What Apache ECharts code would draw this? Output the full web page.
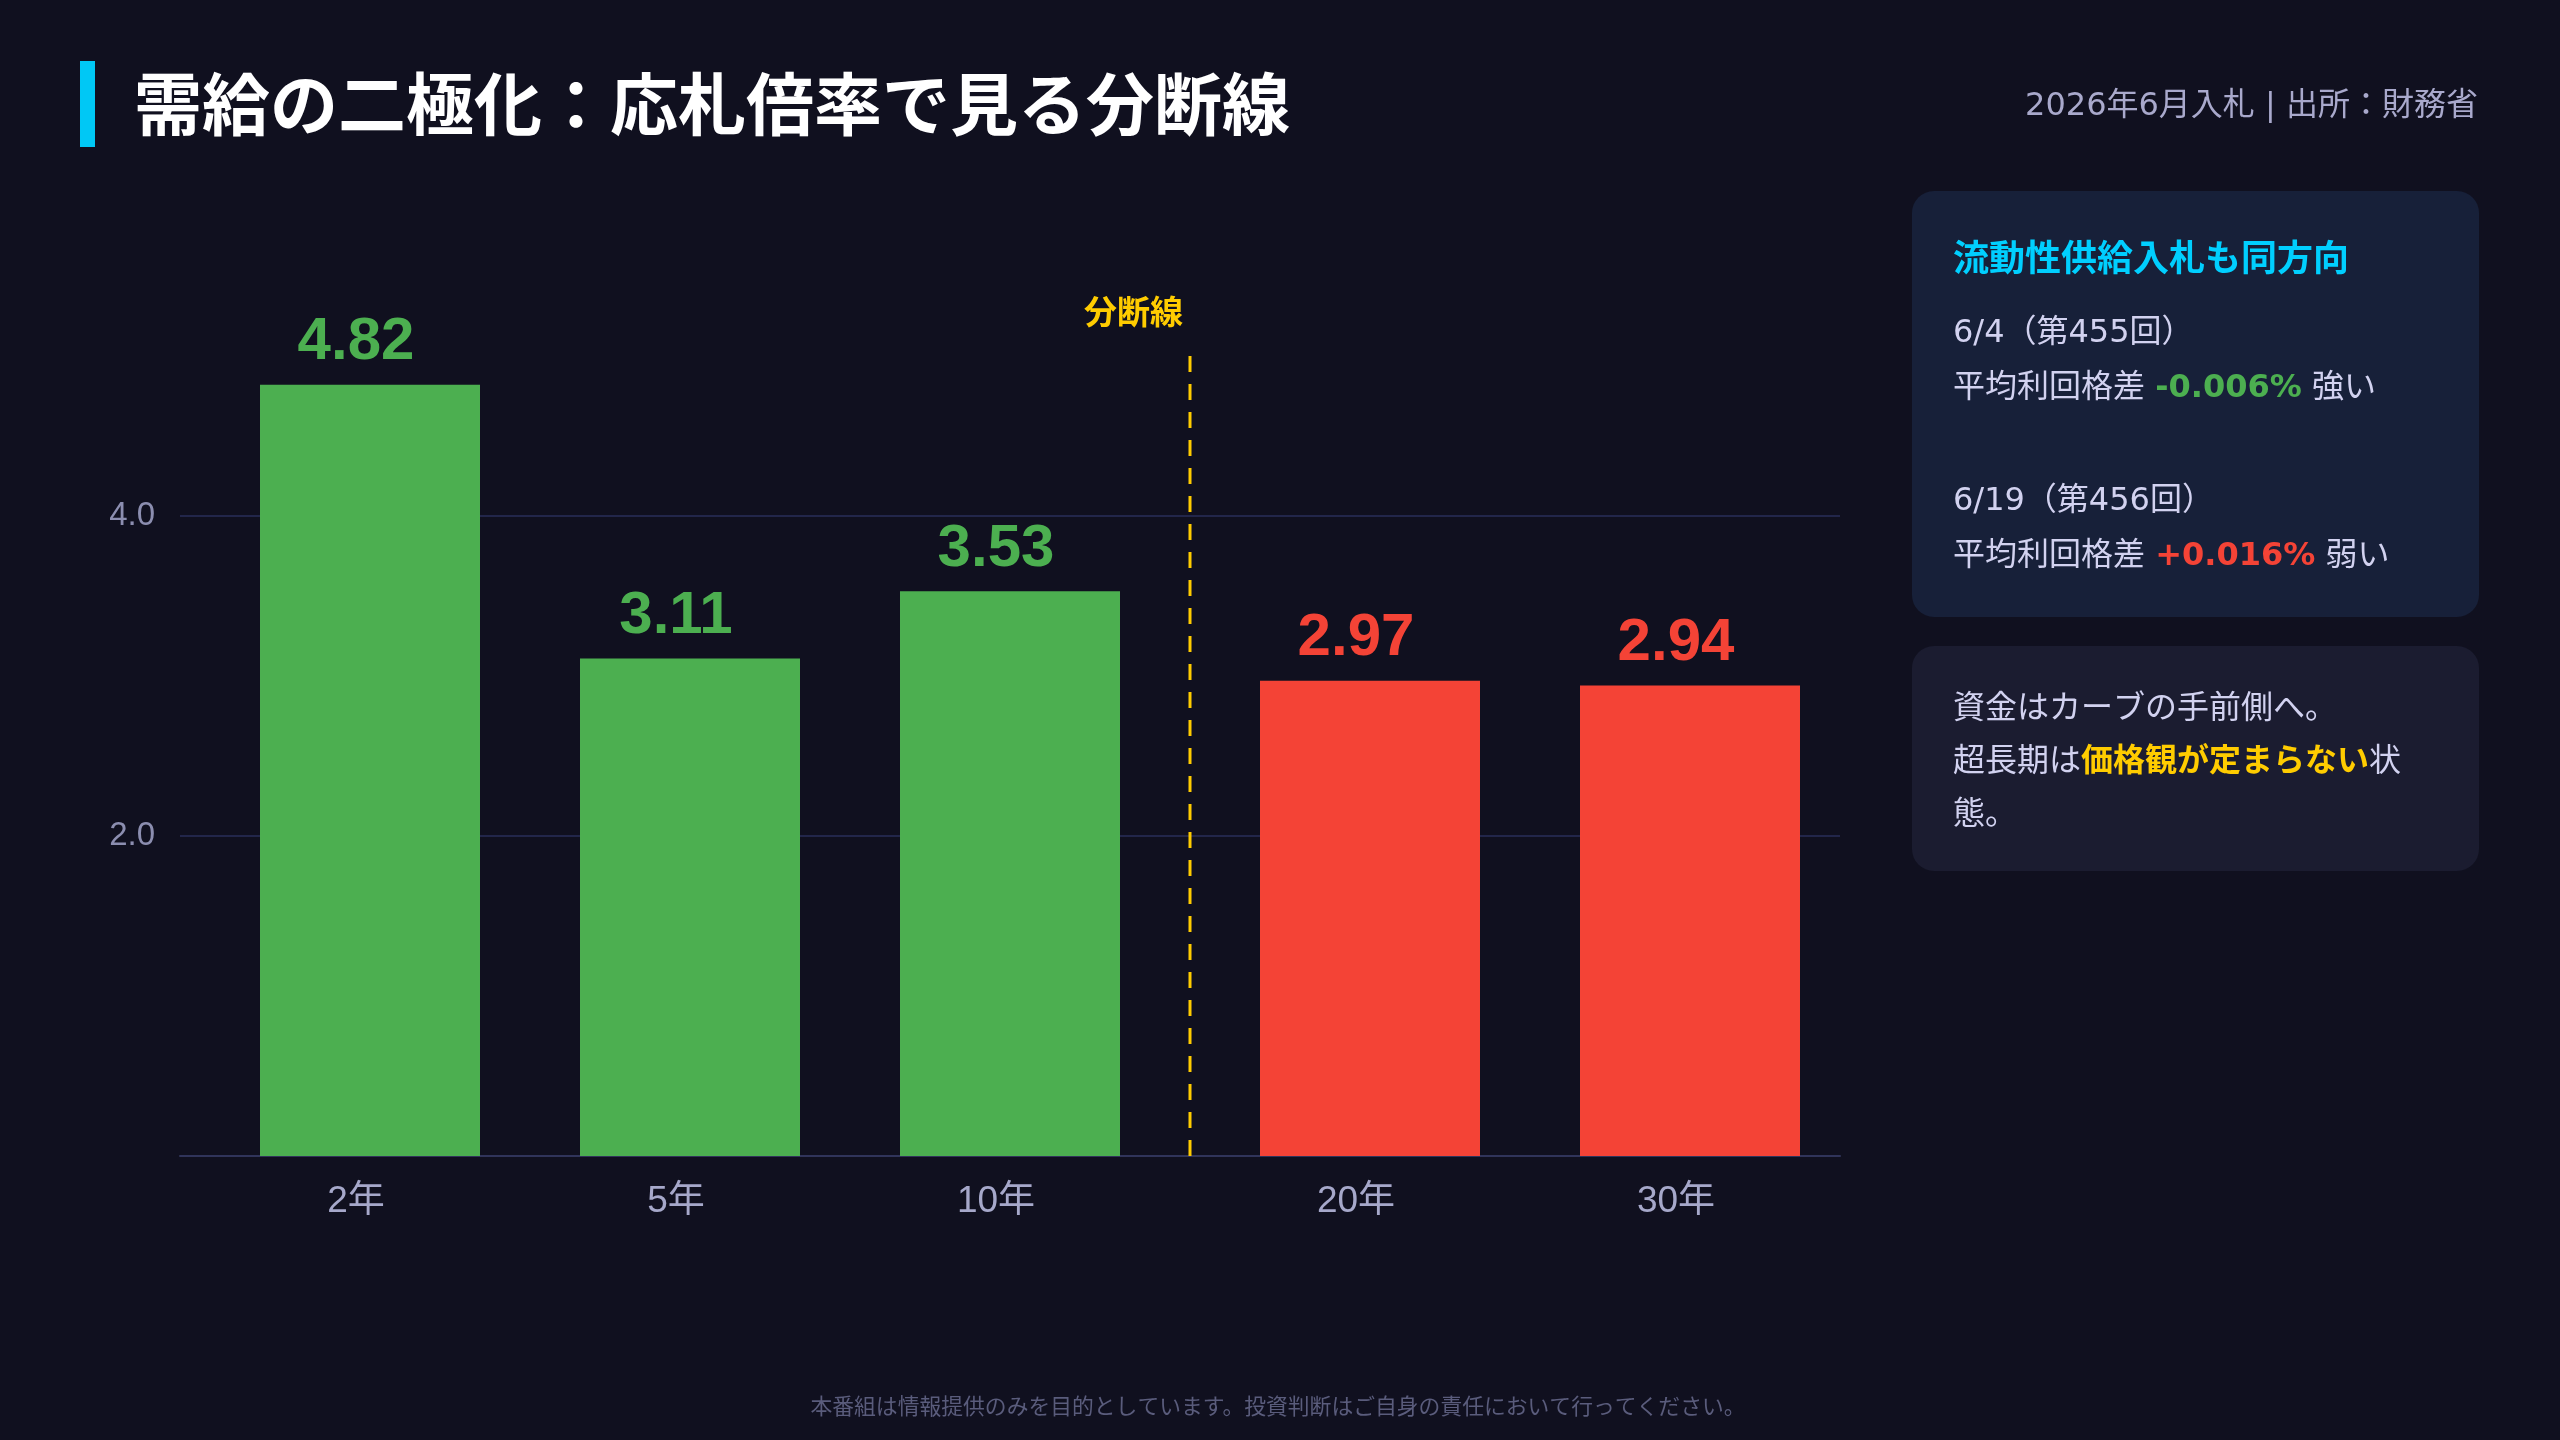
<!DOCTYPE html>
<html>
<head>
<meta charset="utf-8">
<script src="https://cdn.jsdelivr.net/npm/echarts@6/dist/echarts.min.js"></script>
<style>
html,body{margin:0;padding:0;background:#10101F;}
#c{width:2560px;height:1440px;}
</style>
</head>
<body>
<div id="c"></div>
<script>
// ---- data ----
const categories = ['2年', '5年', '10年', '20年', '30年'];
const bidToCover = [4.82, 3.11, 3.53, 2.97, 2.94];
const dividerAfter = '10年';
const yAxisMin = 0;
const yAxisMax = 5;
const yAxisStep = 2;

const titleText = '需給の二極化：応札倍率で見る分断線';
const subtitleText = '2026年6月入札 | 出所：財務省';
const dividerLabel = '分断線';
const panel1Heading = '流動性供給入札も同方向';
const auction1Date = '6/4（第455回）';
const auction1Spread = '-0.006%';
const auction1Verdict = '強い';
const auction2Date = '6/19（第456回）';
const auction2Spread = '+0.016%';
const auction2Verdict = '弱い';
const spreadLabel = '平均利回格差';
const noteLines = ['資金はカーブの手前側へ。', '超長期は', '価格観が定まらない', '状', '態。'];
const footerText = '本番組は情報提供のみを目的としています。投資判断はご自身の責任において行ってください。';

// ---- style ----
const GREEN = '#4CAF50', RED = '#F44336', YELLOW = '#FFCC00', CYAN = '#00CFFF';
const F = "'Liberation Sans', Arial, 'Noto Sans CJK JP', sans-serif";
const FW = "'DejaVu Sans', 'Noto Sans CJK JP', sans-serif";
const FJ = "'Noto Sans CJK JP', sans-serif";

const splitIdx = categories.indexOf(dividerAfter) + 1;
const leftCats = categories.slice(0, splitIdx);
const rightCats = categories.slice(splitIdx);
const leftVals = bidToCover.slice(0, splitIdx);
const rightVals = bidToCover.slice(splitIdx);

const chart = echarts.init(document.getElementById('c'), null, {renderer: 'canvas'});

const gridTop = 356, gridBottom = 284;
const barLabel = (color) => ({
  show: true, position: 'top', distance: 12, offset: [-14, 0],
  color: color, fontFamily: F, fontWeight: 'bold', fontSize: 60,
  formatter: p => p.value.toFixed(2)
});
const hiddenY = (i) => ({
  type: 'value', gridIndex: i, min: yAxisMin, max: yAxisMax, interval: yAxisStep, show: false
});
const catAxis = (i, data) => ({
  type: 'category', gridIndex: i, data: data,
  axisLine: {show: false}, axisTick: {show: false},
  axisLabel: {color: '#A6A8CA', fontFamily: F, fontSize: 37, margin: 27, padding: [0, 28, 0, 0]}
});

const option = {
  backgroundColor: '#10101F',
  animation: false,
  grid: [
    {left: 180, right: 720, top: gridTop, bottom: gridBottom, outerBoundsMode: 'none', containLabel: false},
    {left: 210, width: 960, top: gridTop, bottom: gridBottom, outerBoundsMode: 'none', containLabel: false},
    {left: 1210, width: 640, top: gridTop, bottom: gridBottom, outerBoundsMode: 'none', containLabel: false}
  ],
  xAxis: [
    {type: 'category', gridIndex: 0, data: categories,
     axisLine: {show: true, lineStyle: {color: '#30345A', width: 2}},
     axisTick: {show: false}, axisLabel: {show: false}},
    catAxis(1, leftCats),
    catAxis(2, rightCats)
  ],
  yAxis: [
    {type: 'value', gridIndex: 0, min: yAxisMin, max: yAxisMax, interval: yAxisStep,
     axisLine: {show: false}, axisTick: {show: false},
     axisLabel: {color: '#8C8EB0', fontFamily: F, fontSize: 33, margin: 25,
       showMinLabel: false, showMaxLabel: false,
       formatter: v => (v === yAxisMax ? '' : v.toFixed(1))},
     splitLine: {show: true, showMinLine: false, showMaxLine: false,
       lineStyle: {color: '#22264A', width: 2}}},
    hiddenY(1),
    hiddenY(2)
  ],
  series: [
    {type: 'bar', xAxisIndex: 1, yAxisIndex: 1, data: leftVals, barWidth: 220,
     itemStyle: {color: GREEN}, label: barLabel(GREEN)},
    {type: 'bar', xAxisIndex: 2, yAxisIndex: 2, data: rightVals, barWidth: 220,
     itemStyle: {color: RED}, label: barLabel(RED)}
  ]
};
chart.setOption(option);

// divider position from the library's scales
const xLeft = chart.convertToPixel({xAxisIndex: 1}, leftCats[leftCats.length - 1]);
const xRight = chart.convertToPixel({xAxisIndex: 2}, rightCats[0]);
const xDiv = Math.round((xLeft + xRight) / 2);
const yTop = chart.convertToPixel({yAxisIndex: 0}, yAxisMax);
const yBot = chart.convertToPixel({yAxisIndex: 0}, yAxisMin);

const graphics = [
  {type: 'rect', id: 'accent', shape: {x: 80, y: 61, width: 15, height: 86}, style: {fill: '#00C8F5'}},
  {type: 'text', id: 'title', x: 134, y: 104,
   style: {text: titleText, font: "bold 68px " + FJ, fill: '#FFFFFF', align: 'left', verticalAlign: 'middle'}},
  {type: 'text', id: 'subtitle', x: 2478, y: 107,
   style: {text: subtitleText, font: "32px " + FW, fill: '#A9A9CC', align: 'right', verticalAlign: 'middle'}},
  // divider
  {type: 'line', id: 'divider', shape: {x1: xDiv, y1: yTop, x2: xDiv, y2: yBot},
   style: {stroke: YELLOW, lineWidth: 3, lineDash: [16, 12]}, z: 10},
  {type: 'text', id: 'divLabel', x: xDiv - 7, y: yTop - 45,
   style: {text: dividerLabel, font: "bold 33px " + FJ, fill: YELLOW, align: 'right', verticalAlign: 'middle'}},
  // panel 1
  {type: 'rect', id: 'panel1', shape: {x: 1912, y: 191, width: 567, height: 426, r: 22}, style: {fill: '#172039'}},
  {type: 'text', id: 'p1h', x: 1953, y: 257,
   style: {text: panel1Heading, font: "bold 36px " + FJ, fill: CYAN, align: 'left', verticalAlign: 'middle'}},
  {type: 'text', id: 'p1a', x: 1953, y: 334,
   style: {text: auction1Date, font: "32px " + FW, fill: '#D2D2F0', align: 'left', verticalAlign: 'middle'}},
  {type: 'text', id: 'p1b', x: 1953, y: 389,
   style: {text: spreadLabel + ' {g|' + auction1Spread + '} ' + auction1Verdict,
     font: "32px " + FW, fill: '#D2D2F0', align: 'left', verticalAlign: 'middle',
     rich: {g: {fill: GREEN, font: "bold 32px " + FW}}}},
  {type: 'text', id: 'p1c', x: 1953, y: 502,
   style: {text: auction2Date, font: "32px " + FW, fill: '#D2D2F0', align: 'left', verticalAlign: 'middle'}},
  {type: 'text', id: 'p1d', x: 1953, y: 557,
   style: {text: spreadLabel + ' {r|' + auction2Spread + '} ' + auction2Verdict,
     font: "32px " + FW, fill: '#D2D2F0', align: 'left', verticalAlign: 'middle',
     rich: {r: {fill: RED, font: "bold 32px " + FW}}}},
  // panel 2
  {type: 'rect', id: 'panel2', shape: {x: 1912, y: 646, width: 567, height: 225, r: 22}, style: {fill: '#1B1C30'}},
  {type: 'text', id: 'p2', x: 1953, y: 679,
   style: {text: noteLines[0] + '\n' + noteLines[1] + '{y|' + noteLines[2] + '}' + noteLines[3] + '\n' + noteLines[4],
     font: "32px " + FJ, fill: '#D2D2F0', lineHeight: 53, align: 'left', verticalAlign: 'top',
     rich: {y: {fill: YELLOW, font: "bold 32px " + FJ, lineHeight: 53}}}},
  // footer
  {type: 'text', id: 'footer', x: 1278, y: 1406,
   style: {text: footerText, font: "21.8px " + FJ, fill: '#5A5C7C', align: 'center', verticalAlign: 'middle'}}
];
chart.setOption({graphic: {elements: graphics}});
</script>
</body>
</html>
